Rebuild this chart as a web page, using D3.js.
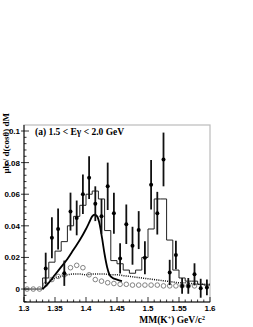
<!DOCTYPE html>
<html lang="en">
<head>
    <meta charset="UTF-8">
    <title>MM(K+) spectrum, 1.5 &lt; Eγ &lt; 2.0 GeV</title>
    <script src="https://d3js.org/d3.v7.min.js"></script>
    <style>
        body { margin: 0; background: #fff; }
        svg { display: block; }
        .tick-label { font-family: "Liberation Sans", Arial, sans-serif; font-weight: bold; font-size: 8px; }
        .serif { font-family: "Liberation Serif", "Times New Roman", serif; font-weight: bold; }
    </style>
</head>
<body>
    <div id="chart"></div>

    <script>
        // histogram (solid step line), bin edges and contents
        const histEdges = [1.30, 1.33, 1.34, 1.35, 1.36, 1.37, 1.38, 1.39, 1.40, 1.41, 1.42, 1.43, 1.44, 1.45,
                           1.46, 1.47, 1.48, 1.49, 1.50, 1.51, 1.52, 1.53, 1.54, 1.55, 1.56, 1.57, 1.58, 1.59, 1.60];
        const histVals = [0, 0.007, 0.017, 0.024, 0.030, 0.040, 0.046, 0.053, 0.060, 0.062, 0.057, 0.037, 0.018, 0.016,
                          0.012, 0.010, 0.012, 0.020, 0.038, 0.057, 0.057, 0.031, 0.012, 0.007, 0.005, 0.005, 0.003, 0.0025];

        // data points with errors
        const ptX = [1.335, 1.345, 1.355, 1.365, 1.375, 1.385, 1.395, 1.405, 1.415, 1.425, 1.435, 1.445, 1.455, 1.465,
                     1.475, 1.485, 1.495, 1.505, 1.515, 1.525, 1.535, 1.545, 1.555, 1.565, 1.575, 1.585, 1.595];
        const ptY = [0.013, 0.0325, 0.038, 0.010, 0.049, 0.045, 0.060, 0.0705, 0.054, 0.046, 0.065, 0.048, 0.0194, 0.041,
                     0.0274, 0.0373, 0.0198, 0.066, 0.048, 0.082, 0.0105, 0.0215, 0.002, 0.002, 0.0093, 0.0005, 0.001];
        const ptErr = [0.010, 0.013, 0.013, 0.008, 0.012, 0.011, 0.0125, 0.0135, 0.011, 0.011, 0.015, 0.013, 0.0095, 0.0125,
                       0.012, 0.012, 0.0105, 0.0157, 0.0135, 0.017, 0.008, 0.009, 0.005, 0.005, 0.007, 0.006, 0.005];

        // open circles
        const circX = [1.305, 1.315, 1.325, 1.335, 1.345, 1.355, 1.365, 1.375, 1.385, 1.395, 1.405, 1.415, 1.425, 1.435,
                       1.445, 1.455, 1.465, 1.475, 1.485, 1.495, 1.505, 1.515, 1.525, 1.535, 1.545, 1.555, 1.565, 1.575];
        const circY = [0, 0, 0, 0.003, 0.006, 0.008, 0.009, 0.0135, 0.015, 0.0135, 0.009, 0.006, 0.005, 0.004,
                       0.0035, 0.003, 0.003, 0.0025, 0.0025, 0.0025, 0.0025, 0.0025, 0.002, 0.002, 0.002, 0.002, 0.002, 0.002];

        // dotted curve
        const dotX = [1.330, 1.340, 1.350, 1.360, 1.370, 1.380, 1.390, 1.400, 1.410, 1.420, 1.430, 1.440, 1.450, 1.460,
                      1.470, 1.480, 1.490, 1.500, 1.510, 1.520, 1.530, 1.540, 1.550, 1.560, 1.570, 1.580, 1.590, 1.600];
        const dotY = [0, 0.004, 0.007, 0.008, 0.009, 0.0095, 0.0095, 0.009, 0.0095, 0.0095, 0.0095, 0.009, 0.009, 0.0085,
                      0.008, 0.0075, 0.007, 0.0065, 0.006, 0.0055, 0.005, 0.0045, 0.004, 0.004, 0.0035, 0.003, 0.003, 0.003];

        // thick smooth curve
        const curveX = [1.330, 1.340, 1.350, 1.360, 1.370, 1.380, 1.390, 1.400, 1.405, 1.410, 1.414, 1.418, 1.422,
                        1.426, 1.430, 1.434, 1.438, 1.443, 1.450, 1.458];
        const curveY = [0, 0.004, 0.009, 0.014, 0.019, 0.025, 0.031, 0.038, 0.042, 0.046, 0.047, 0.046, 0.041,
                        0.032, 0.022, 0.014, 0.009, 0.007, 0.006, 0.005];

        const xTicks = [1.3, 1.35, 1.4, 1.45, 1.5, 1.55, 1.6];
        const yTicks = [0, 0.02, 0.04, 0.06, 0.08, 0.1];

        const W = 253, H = 327;
        const frame = { left: 24, right: 210, top: 125, bottom: 302 };

        const svg = d3.select("#chart").append("svg").attr("width", W).attr("height", H);

        const x = d3.scaleLinear().domain([1.3, 1.6]).range([frame.left, frame.right]);
        const y = d3.scaleLinear().domain([-0.0082, 0.1038]).range([frame.bottom, frame.top]);

        // frame (top/right light grey)
        svg.append("rect")
            .attr("x", frame.left).attr("y", frame.top)
            .attr("width", frame.right - frame.left).attr("height", frame.bottom - frame.top)
            .attr("fill", "none").attr("stroke", "#bbb").attr("stroke-width", 1.2);

        const plot = svg.append("g");

        // histogram step line
        const steps = [];
        histVals.forEach((v, i) => {
            steps.push([histEdges[i], v]);
            steps.push([histEdges[i + 1], v]);
        });
        plot.append("path")
            .datum(steps)
            .attr("fill", "none").attr("stroke", "#222").attr("stroke-width", 1)
            .attr("d", d3.line().x(d => x(d[0])).y(d => y(d[1])));

        // dotted curve
        plot.append("path")
            .datum(dotX.map((d, i) => [d, dotY[i]]))
            .attr("fill", "none").attr("stroke", "#111").attr("stroke-width", 1.5)
            .attr("stroke-dasharray", "1,1.2")
            .attr("d", d3.line().x(d => x(d[0])).y(d => y(d[1])).curve(d3.curveMonotoneX));

        // open circles
        plot.selectAll(".oc")
            .data(circX.map((d, i) => [d, circY[i]]))
            .enter().append("circle")
            .attr("cx", d => x(d[0])).attr("cy", d => y(d[1])).attr("r", 2.3)
            .attr("fill", "none").attr("stroke", "#666").attr("stroke-width", 0.8);

        // thick curve
        plot.append("path")
            .datum(curveX.map((d, i) => [d, curveY[i]]))
            .attr("fill", "none").attr("stroke", "#000").attr("stroke-width", 1.8)
            .attr("d", d3.line().x(d => x(d[0])).y(d => y(d[1])).curve(d3.curveMonotoneX));

        // error bars and points
        const pts = ptX.map((d, i) => ({ x: d, y: ptY[i], e: ptErr[i] }));
        plot.selectAll(".eb")
            .data(pts)
            .enter().append("line")
            .attr("x1", d => x(d.x)).attr("x2", d => x(d.x))
            .attr("y1", d => y(d.y - d.e)).attr("y2", d => y(d.y + d.e))
            .attr("stroke", "#111").attr("stroke-width", 1.8);
        plot.selectAll(".pt")
            .data(pts)
            .enter().append("circle")
            .attr("cx", d => x(d.x)).attr("cy", d => y(d.y)).attr("r", 2)
            .attr("fill", "#000");

        // x axis: ticks pointing inward
        const xAxis = svg.append("g").attr("transform", `translate(0,${frame.bottom})`);
        xAxis.append("line").attr("x1", frame.left).attr("x2", frame.right).attr("stroke", "#000");
        const xMinor = d3.range(0, 31).map(i => 1.3 + i * 0.01);
        xAxis.selectAll(".xm").data(xMinor).enter().append("line")
            .attr("x1", d => x(d)).attr("x2", d => x(d))
            .attr("y1", 0).attr("y2", (d, i) => i % 5 === 0 ? -5 : -2.5)
            .attr("stroke", "#000").attr("stroke-width", 0.8);
        xAxis.selectAll(".xl").data(xTicks).enter().append("text")
            .attr("class", "tick-label")
            .attr("x", d => x(d)).attr("y", 8.5)
            .attr("text-anchor", "middle")
            .text(d => d3.format(".2~f")(d));

        // y axis
        const yAxis = svg.append("g").attr("transform", `translate(${frame.left},0)`);
        yAxis.append("line").attr("y1", frame.top).attr("y2", frame.bottom).attr("stroke", "#000");
        const yMinor = d3.range(-2, 26).map(i => i * 0.004).filter(v => y(v) >= frame.top && y(v) <= frame.bottom);
        yAxis.selectAll(".ym").data(yMinor).enter().append("line")
            .attr("y1", d => y(d)).attr("y2", d => y(d))
            .attr("x1", 0).attr("x2", d => Math.abs(d / 0.02 - Math.round(d / 0.02)) < 1e-6 ? 5 : 2.5)
            .attr("stroke", "#000").attr("stroke-width", 0.8);
        yAxis.selectAll(".yo").data(yTicks).enter().append("line")
            .attr("y1", d => y(d)).attr("y2", d => y(d))
            .attr("x1", -3).attr("x2", 0)
            .attr("stroke", "#000").attr("stroke-width", 0.8);
        yAxis.selectAll(".yl").data(yTicks).enter().append("text")
            .attr("class", "tick-label")
            .attr("x", -4).attr("y", d => y(d) + 3)
            .attr("text-anchor", "end")
            .text(d => d === 0 ? "0" : d3.format(".2~f")(d));

        // labels
        svg.append("text")
            .attr("class", "serif").attr("font-size", 9.5)
            .attr("x", 35).attr("y", 135)
            .text("(a)  1.5 < Eγ < 2.0 GeV");

        const xt = svg.append("text")
            .attr("class", "serif").attr("font-size", 9.5)
            .attr("x", 205).attr("y", 323).attr("text-anchor", "end");
        xt.append("tspan").text("MM(K");
        xt.append("tspan").attr("font-size", 6).attr("dy", -3.5).text("+");
        xt.append("tspan").attr("dy", 3.5).text(")  GeV/c");
        xt.append("tspan").attr("font-size", 6).attr("dy", -3.5).text("2");

        svg.append("text")
            .attr("class", "serif").attr("font-size", 9)
            .attr("transform", "translate(9,113) rotate(-90)")
            .attr("text-anchor", "end")
            .text("μb / d(cosθ) dM");
    </script>
</body>
</html>
